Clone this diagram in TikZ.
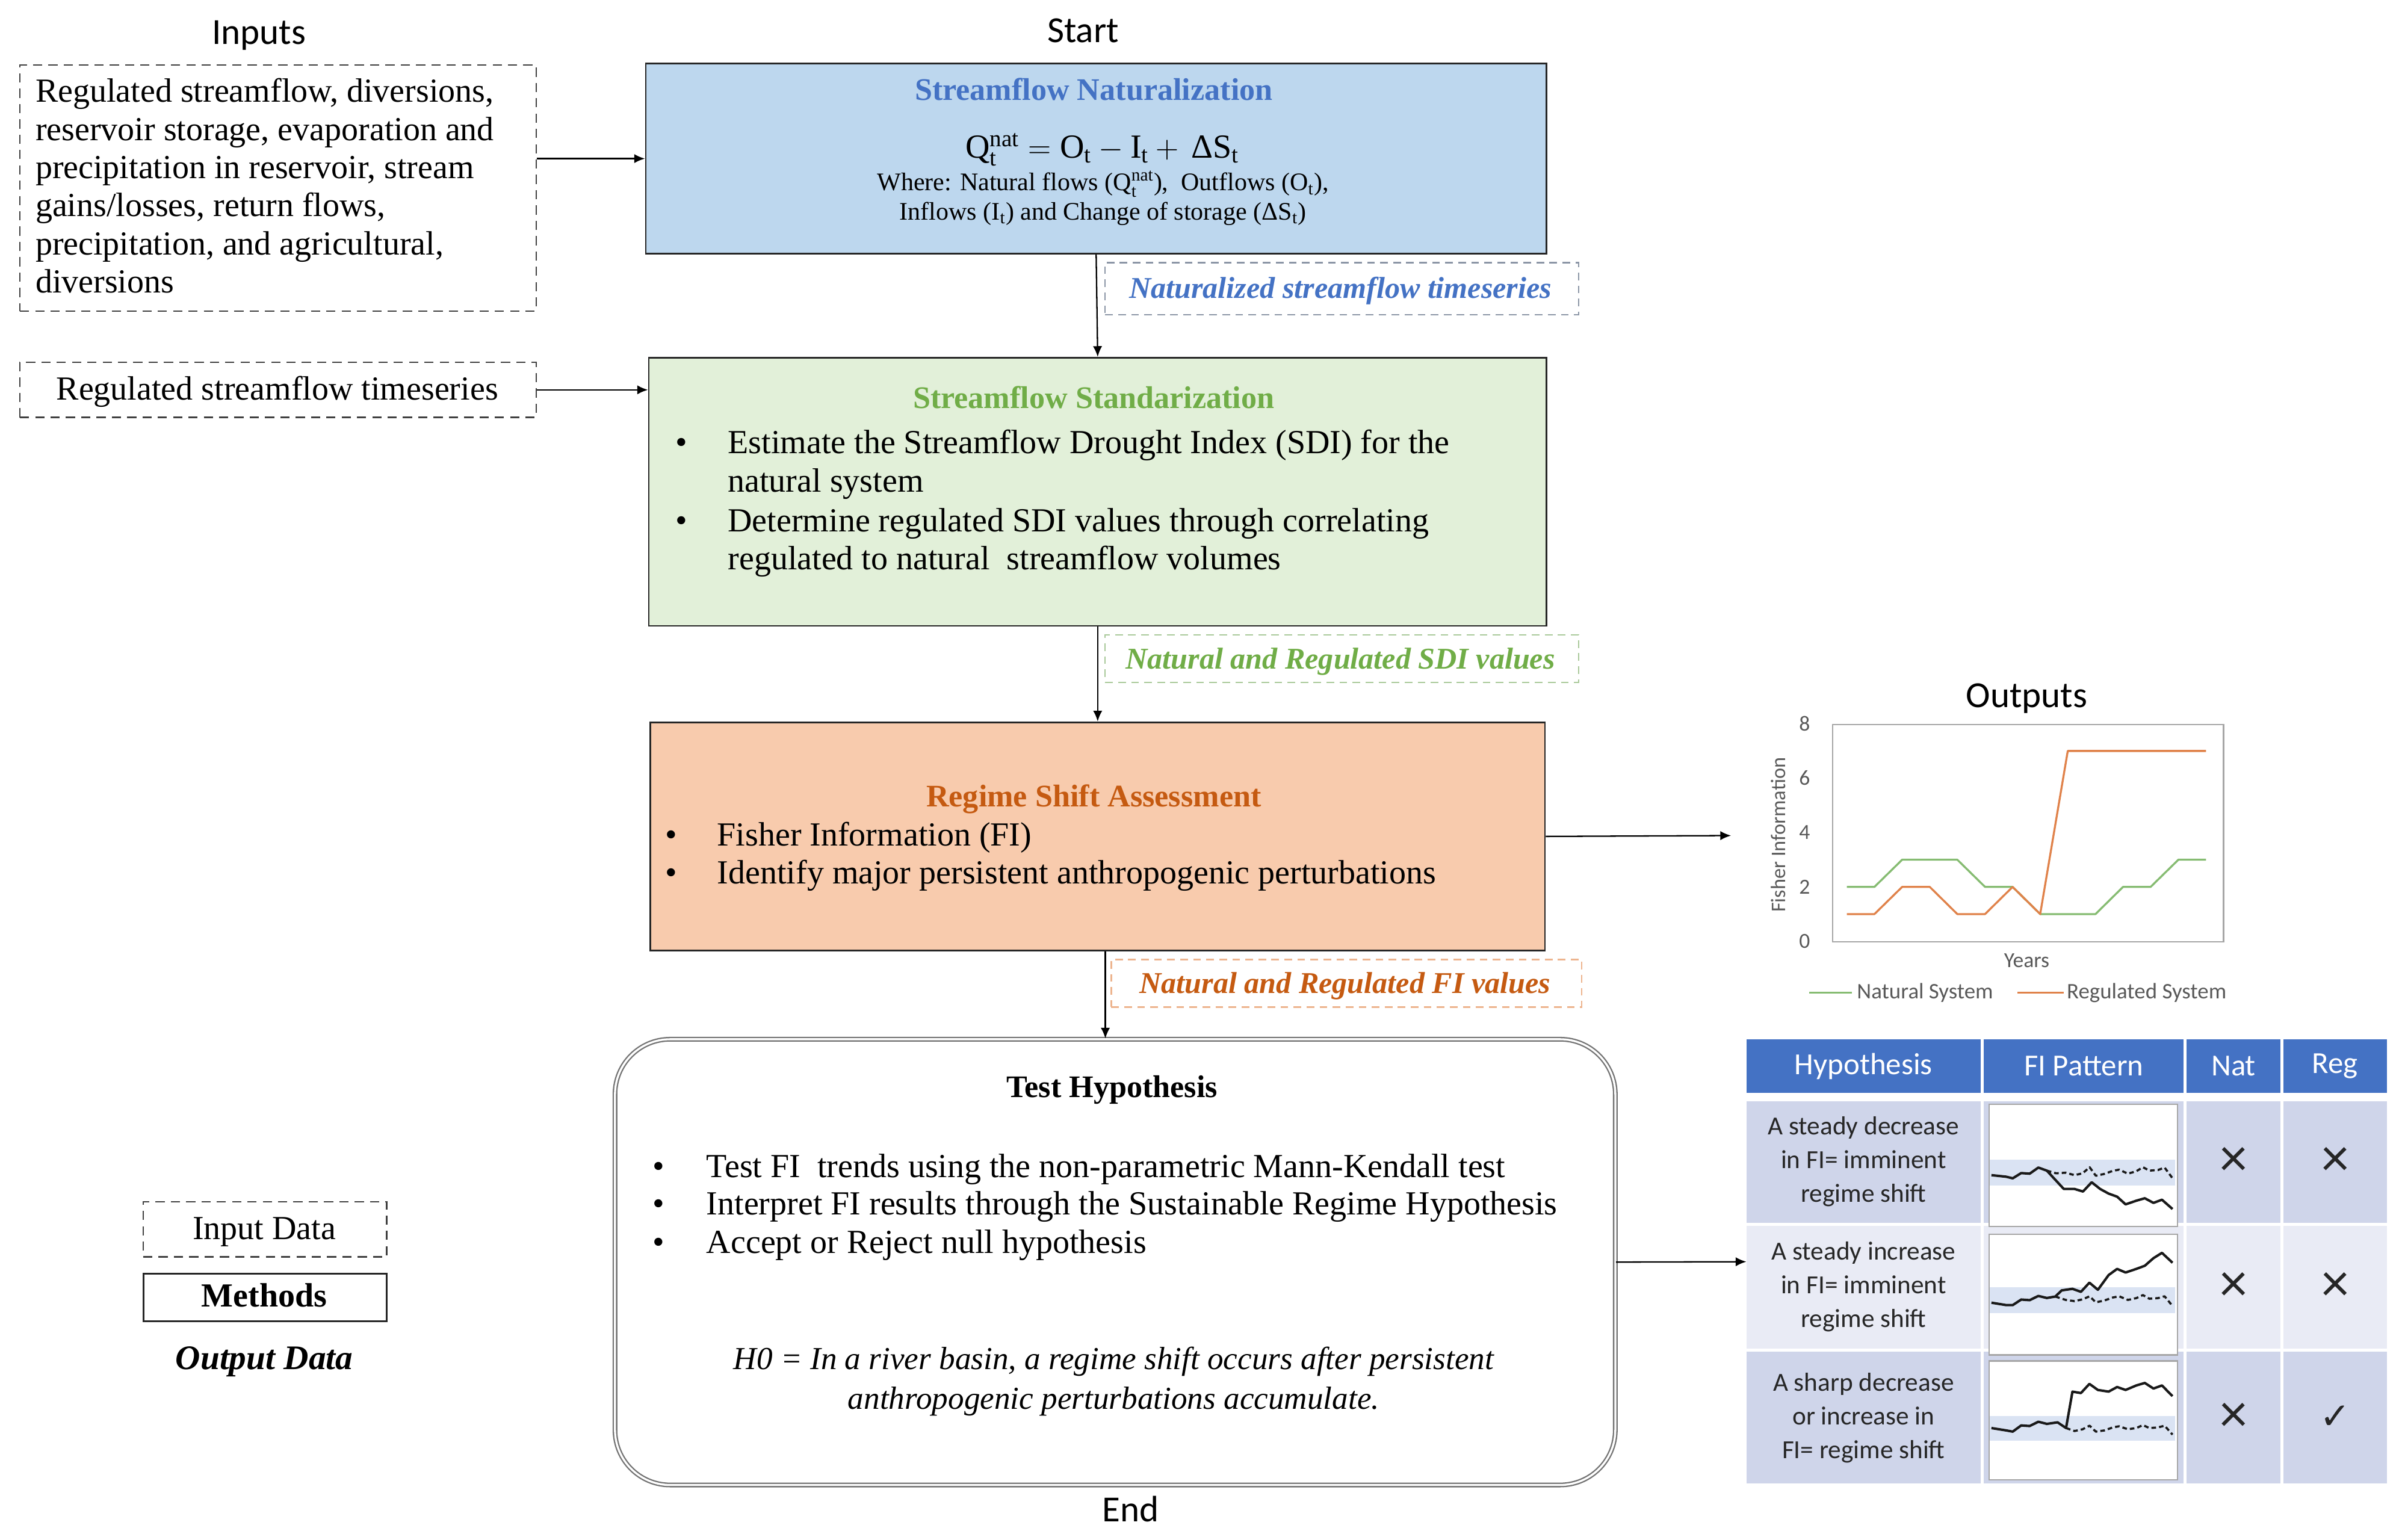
\documentclass[tikz,border=0pt]{standalone}
\usepackage{fontspec}
\setmainfont{Liberation Serif}
\newfontfamily\calib{Carlito}
\newfontfamily\djv{DejaVu Sans}
\usetikzlibrary{arrows.meta,calc}
\definecolor{bluefill}{HTML}{BDD7EE}
\definecolor{greenfill}{HTML}{E2F0D9}
\definecolor{orangefill}{HTML}{F8CBAD}
\definecolor{bluetxt}{HTML}{4472C4}
\definecolor{greentxt}{HTML}{70AD47}
\definecolor{orangetxt}{HTML}{C55A11}
\definecolor{hdr}{HTML}{4472C4}
\definecolor{rowA}{HTML}{CFD5EA}
\definecolor{rowB}{HTML}{E9EBF5}
\definecolor{band}{HTML}{DAE3F3}
\definecolor{cgreen}{HTML}{86BC72}
\definecolor{corange}{HTML}{E0824A}
\definecolor{axisgray}{HTML}{595959}
\definecolor{framegray}{HTML}{A6A6A6}
\definecolor{lblgreen}{HTML}{A9C99A}
\definecolor{lblorange}{HTML}{EDB48E}
\definecolor{lblblue}{HTML}{8C96A6}
\tikzset{
  mbox/.style={draw=black!85, line width=1.1pt, anchor=north west, inner sep=0pt},
  dbox/.style={draw=black!75, dash pattern=on 6pt off 4pt, line width=1pt, anchor=north west, inner sep=0pt},
  lblbox/.style={dash pattern=on 5pt off 3.5pt, line width=0.9pt, anchor=north west, inner sep=0pt, fill=white},
  body/.style={font=\fontsize{22}{25}\selectfont, inner sep=0pt, anchor=base west},
  ttl/.style={font=\fontsize{20.5}{24}\selectfont\bfseries, inner sep=0pt, anchor=base},
  lbltxt/.style={font=\fontsize{19.7}{23}\selectfont\bfseries\itshape, inner sep=0pt, anchor=base},
  arr/.style={-{Latex[length=7pt,width=6pt]}, line width=0.9pt, black},
  cal/.style={font=\calib\fontsize{24}{28}\selectfont, inner sep=0pt},
  axlbl/.style={font=\calib\fontsize{14}{16}\selectfont, text=axisgray, inner sep=0pt},
  hdrtxt/.style={font=\calib\fontsize{20}{24}\selectfont, text=white, inner sep=0pt},
  rowtxt/.style={font=\calib\fontsize{17}{22}\selectfont, text=black!85, align=center, inner sep=0pt},
  xmk/.style={font=\calib\fontsize{36}{36}\selectfont, text=black!85, inner sep=0pt},
  pbox/.style={draw=framegray, fill=white, line width=0.9pt, anchor=north west, inner sep=0pt, minimum width=123pt},
  solidfi/.style={line width=1.6pt, line join=round, black!90},
  dashfi/.style={line width=1.4pt, line join=round, black!90, dash pattern=on 3pt off 2pt}
}
\begin{document}
\begin{tikzpicture}[x=1pt,y=-1pt]
\fill[white] (0,0) rectangle (1568,1005);
\useasboundingbox (0,0) rectangle (1568,1005);

% ---------- Inputs ----------
\node[cal] (inputsT) at (169,23) {Inputs};
\node[dbox, minimum width=337pt, minimum height=160.6pt] (in1) at (12.5,42) {};
\node[body] (in1a) at (23,66.7) {Regulated streamflow, diversions,};
\node[body] (in1b) at (23,91.6) {reservoir storage, evaporation and};
\node[body] (in1c) at (23,116.5) {precipitation in reservoir, stream};
\node[body] (in1d) at (23,141.4) {gains/losses, return flows,};
\node[body] (in1e) at (23,166.3) {precipitation, and agricultural,};
\node[body] (in1f) at (23,191.2) {diversions};
\node[dbox, minimum width=337pt, minimum height=36pt] (in2) at (12.5,236) {};
\node[body, anchor=base] (in2t) at (181,261) {Regulated streamflow timeseries};

% ---------- Start ----------
\node[cal] (startT) at (707,20) {Start};

% ---------- Streamflow Naturalization ----------
\node[mbox, fill=bluefill, minimum width=588pt, minimum height=124pt] (nat) at (421,41) {};
\node[ttl, text=bluetxt] (natT) at (714,65.5) {Streamflow Naturalization};
\node[inner sep=0pt, anchor=base, font=\fontsize{22}{26}\selectfont] (eq) at (719.5,103)
  {$\mathrm{Q}_{\mathrm{t}}^{\mathrm{nat}} = \mathrm{O}_{\mathrm{t}} - \mathrm{I}_{\mathrm{t}} + \,\mbox{Δ}\mathrm{S}_{\mathrm{t}}$};
\node[inner sep=0pt, anchor=base, font=\fontsize{16.5}{19}\selectfont] (where1) at (720,124.5)
  {Where: Natural flows (Q$_{\mathrm{t}}^{\mathrm{nat}}$), \ Outflows (O$_{\mathrm{t}}$),};
\node[inner sep=0pt, anchor=base, font=\fontsize{16.5}{19}\selectfont] (where2) at (720,143.5)
  {Inflows (I$_{\mathrm{t}}$) and Change of storage (ΔS$_{\mathrm{t}}$)};

\node[lblbox, draw=lblblue, minimum width=309pt, minimum height=34pt] (lbl1) at (721,171) {};
\node[lbltxt, text=bluetxt] (lbl1t) at (875,194.5) {Naturalized streamflow timeseries};

% ---------- Streamflow Standarization ----------
\node[mbox, fill=greenfill, minimum width=586pt, minimum height=175pt] (std) at (423,233) {};
\node[ttl, text=greentxt] (stdT) at (714,266.5) {Streamflow Standarization};
\node[body, anchor=base] (sbA) at (445,296) {•};
\node[body] (s1a) at (475,296) {Estimate the Streamflow Drought Index (SDI) for the};
\node[body] (s1b) at (475,321) {natural system};
\node[body, anchor=base] (sbB) at (445,347) {•};
\node[body] (s2a) at (475,347) {Determine regulated SDI values through correlating};
\node[body] (s2b) at (475,372) {regulated to natural\ \ streamflow volumes};

\node[lblbox, draw=lblgreen, minimum width=309pt, minimum height=31pt] (lbl2) at (721,414) {};
\node[lbltxt, text=greentxt] (lbl2t) at (875,436.5) {Natural and Regulated SDI values};

% ---------- Regime Shift Assessment ----------
\node[mbox, fill=orangefill, minimum width=584pt, minimum height=149pt] (rsa) at (424,471) {};
\node[ttl, text=orangetxt] (rsaT) at (714,526.5) {Regime Shift Assessment};
\node[body, anchor=base] (rbA) at (438,552) {•};
\node[body] (r1) at (468,552) {Fisher Information (FI)};
\node[body, anchor=base] (rbB) at (438,577) {•};
\node[body] (r2) at (468,577) {Identify major persistent anthropogenic perturbations};

\node[lblbox, draw=lblorange, minimum width=307pt, minimum height=31pt] (lbl3) at (725,626) {};
\node[lbltxt, text=orangetxt] (lbl3t) at (878,648.5) {Natural and Regulated FI values};

% ---------- Test Hypothesis ----------
\node[draw=black!55, double=white, double distance=1.3pt, line width=0.9pt, rounded corners=36pt,
      anchor=north west, inner sep=0pt, minimum width=653pt, minimum height=291pt, fill=white] (test) at (401,678) {};
\node[ttl] (testT) at (726,716.5) {Test Hypothesis};
\node[body, anchor=base] (tbA) at (430,768.5) {•};
\node[body] (t1) at (461,768.5) {Test FI\ \ trends using the non-parametric Mann-Kendall test};
\node[body, anchor=base] (tbB) at (430,793) {•};
\node[body] (t2) at (461,793) {Interpret FI results through the Sustainable Regime Hypothesis};
\node[body, anchor=base] (tbC) at (430,818) {•};
\node[body] (t3) at (461,818) {Accept or Reject null hypothesis};
\node[inner sep=0pt, anchor=base, font=\fontsize{20.9}{25}\selectfont\itshape] (h0a) at (727,894)
  {H0 = In a river basin, a regime shift occurs after persistent};
\node[inner sep=0pt, anchor=base, font=\fontsize{20.9}{25}\selectfont\itshape] (h0b) at (727,920)
  {anthropogenic perturbations accumulate.};
\node[cal] (endT) at (738,985) {End};

% ---------- Legend ----------
\node[dbox, minimum width=159pt, minimum height=36pt] (legIn) at (93,784) {};
\node[inner sep=0pt, anchor=base, font=\fontsize{22}{25}\selectfont] (legInT) at (172.5,809) {Input Data};
\node[draw=black!85, line width=1.1pt, anchor=north west, inner sep=0pt, minimum width=159pt, minimum height=31pt] (legM) at (93,831) {};
\node[inner sep=0pt, anchor=base, font=\fontsize{22}{25}\selectfont\bfseries] (legMT) at (172.5,853) {Methods};
\node[inner sep=0pt, anchor=base, font=\fontsize{22.5}{25}\selectfont\bfseries\itshape] (legO) at (172.5,894) {Output Data};

% ---------- Outputs chart ----------
\node[cal] (outT) at (1323,456) {Outputs};
\node[draw=framegray, line width=0.9pt, anchor=north west, inner sep=0pt, minimum width=255pt, minimum height=142pt] (frame) at (1196,472.5) {};
\node[axlbl] (y8) at (1178,472.5) {8};
\node[axlbl] (y6) at (1178,508) {6};
\node[axlbl] (y4) at (1178,543.5) {4};
\node[axlbl] (y2) at (1178,579) {2};
\node[axlbl] (y0) at (1178,614.5) {0};
\node[axlbl, rotate=90, font=\calib\fontsize{13.5}{16}\selectfont] (ylab) at (1161,545) {Fisher Information};
\node[axlbl] (xlab) at (1323,627) {Years};
\draw[cgreen, line width=1.3pt, line join=round] plot coordinates {
  (1205.6,579) (1223.6,579) (1241.7,561.25) (1259.7,561.25) (1277.7,561.25) (1295.8,579)
  (1313.8,579) (1331.8,596.75) (1349.8,596.75) (1367.9,596.75) (1385.9,579) (1403.9,579)
  (1422.0,561.25) (1440.0,561.25)};
\draw[corange, line width=1.3pt, line join=round] plot coordinates {
  (1205.6,596.75) (1223.6,596.75) (1241.7,579) (1259.7,579) (1277.7,596.75) (1295.8,596.75)
  (1313.8,579) (1331.8,596.75) (1349.8,490.25) (1367.9,490.25) (1385.9,490.25) (1403.9,490.25)
  (1422.0,490.25) (1440.0,490.25)};
\coordinate (lgA) at (1181,648);
\coordinate (lgB) at (1209,648);
\draw[cgreen, line width=1.3pt] (lgA) -- (lgB);
\node[axlbl, anchor=west, font=\calib\fontsize{14.5}{16}\selectfont] (lgN) at (1212,648) {Natural System};
\coordinate (lgC) at (1317,648);
\coordinate (lgD) at (1347,648);
\draw[corange, line width=1.3pt] (lgC) -- (lgD);
\node[axlbl, anchor=west, font=\calib\fontsize{14.5}{16}\selectfont] (lgR) at (1349,648) {Regulated System};
\coordinate (outin) at (1130,545.5);

% ---------- Table ----------
\node[anchor=north west, inner sep=0pt, minimum width=418pt, minimum height=290pt] (tbl) at (1140,678.5) {};
\fill[hdr] (1140,678.5) rectangle (1293,713.5);
\fill[hdr] (1295,678.5) rectangle (1425.5,713.5);
\fill[hdr] (1427.5,678.5) rectangle (1488.5,713.5);
\fill[hdr] (1490.5,678.5) rectangle (1558,713.5);
\foreach \ya/\yb/\c in {719/798.3/rowA, 800.3/880.4/rowB, 882.4/968.6/rowA}{
  \fill[\c] (1140,\ya) rectangle (1293,\yb);
  \fill[\c] (1295,\ya) rectangle (1425.5,\yb);
  \fill[\c] (1427.5,\ya) rectangle (1488.5,\yb);
  \fill[\c] (1490.5,\ya) rectangle (1558,\yb);
}
\node[hdrtxt] (hH) at (1216.5,696) {Hypothesis};
\node[hdrtxt] (hP) at (1360.3,696) {FI Pattern};
\node[hdrtxt] (hN) at (1458,696) {Nat};
\node[hdrtxt] (hR) at (1524.3,696) {Reg};
\node[rowtxt] (c1) at (1216.5,758.5) {A steady decrease\\in FI= imminent\\regime shift};
\node[rowtxt] (c2) at (1216.5,840) {A steady increase\\in FI= imminent\\regime shift};
\node[rowtxt] (c3) at (1216.5,925.5) {A sharp decrease\\or increase in\\FI= regime shift};
\node[xmk] (n1) at (1458,758.5) {×};
\node[xmk] (g1) at (1524.3,758.5) {×};
\node[xmk] (n2) at (1458,840) {×};
\node[xmk] (g2) at (1524.3,840) {×};
\node[xmk] (n3) at (1458,925.5) {×};
\node[font=\djv\fontsize{24}{24}\selectfont, text=black!85, inner sep=0pt] (g3) at (1524.3,925.5) {✓};

% pattern 1
\node[pbox, minimum height=79.8pt] (pb1) at (1298,720.5) {};
\begin{scope}[shift={(pb1.north west)}, x=123pt, y=-79.8pt]
  \fill[band] (0.008,0.46) rectangle (0.992,0.67);
  \draw[solidfi] plot coordinates {(0.016,0.585)(0.095,0.598)(0.129,0.611)(0.174,0.568)(0.219,0.573)(0.265,0.523)(0.31,0.548)(0.355,0.623)(0.4,0.698)(0.457,0.698)(0.502,0.719)(0.548,0.643)(0.593,0.698)(0.638,0.736)(0.683,0.761)(0.728,0.824)(0.785,0.794)(0.83,0.774)(0.876,0.812)(0.921,0.786)(0.977,0.862)};
  \draw[dashfi] plot coordinates {(0.31,0.548)(0.36,0.57)(0.41,0.565)(0.457,0.585)(0.5,0.57)(0.537,0.52)(0.57,0.59)(0.615,0.575)(0.66,0.55)(0.694,0.54)(0.74,0.573)(0.785,0.553)(0.82,0.52)(0.854,0.548)(0.9,0.543)(0.935,0.523)(0.977,0.61)};
\end{scope}
% pattern 2
\node[pbox, minimum height=78.8pt] (pb2) at (1298,805.3) {};
\begin{scope}[shift={(pb2.north west)}, x=123pt, y=-78.8pt]
  \fill[band] (0.008,0.445) rectangle (0.992,0.66);
  \draw[solidfi] plot coordinates {(0.016,0.573)(0.095,0.593)(0.129,0.593)(0.174,0.547)(0.219,0.552)(0.265,0.517)(0.31,0.534)(0.355,0.522)(0.389,0.471)(0.446,0.458)(0.491,0.483)(0.536,0.407)(0.581,0.466)(0.638,0.344)(0.683,0.293)(0.728,0.323)(0.785,0.293)(0.83,0.267)(0.876,0.204)(0.921,0.16)(0.977,0.242)};
  \draw[dashfi] plot coordinates {(0.355,0.522)(0.41,0.55)(0.457,0.56)(0.5,0.545)(0.537,0.52)(0.57,0.57)(0.615,0.555)(0.66,0.53)(0.694,0.52)(0.74,0.55)(0.785,0.535)(0.82,0.51)(0.854,0.54)(0.9,0.535)(0.935,0.52)(0.977,0.6)};
\end{scope}
% pattern 3
\node[pbox, minimum height=77.7pt] (pb3) at (1298,888) {};
\begin{scope}[shift={(pb3.north west)}, x=123pt, y=-77.7pt]
  \fill[band] (0.008,0.47) rectangle (0.992,0.677);
  \draw[solidfi] plot coordinates {(0.016,0.57)(0.095,0.59)(0.129,0.6)(0.174,0.548)(0.219,0.553)(0.265,0.517)(0.31,0.535)(0.367,0.522)(0.412,0.57)(0.446,0.264)(0.491,0.276)(0.536,0.199)(0.581,0.25)(0.638,0.264)(0.683,0.225)(0.728,0.25)(0.785,0.212)(0.83,0.191)(0.876,0.238)(0.921,0.212)(0.977,0.302)};
  \draw[dashfi] plot coordinates {(0.412,0.57)(0.457,0.595)(0.5,0.58)(0.537,0.55)(0.57,0.6)(0.615,0.59)(0.66,0.565)(0.694,0.555)(0.74,0.58)(0.785,0.57)(0.82,0.545)(0.854,0.57)(0.9,0.565)(0.935,0.55)(0.977,0.625)};
\end{scope}

% ---------- Connectors ----------
\draw[arr] (in1.east |- nat.west) -- (nat.west);
\draw[arr] (in2.east) -- (in2.east -| std.west);
\draw[arr] (nat.south) -- (std.north);
\draw[arr] (std.south) -- (rsa.north);
\draw[arr] ([xshift=5pt]rsa.south) -- ([xshift=5pt]rsa.south |- test.north);
\draw[arr] (rsa.east) -- (outin);
\draw[arr] (test.east) -- (tbl.west);
\end{tikzpicture}
\end{document}
